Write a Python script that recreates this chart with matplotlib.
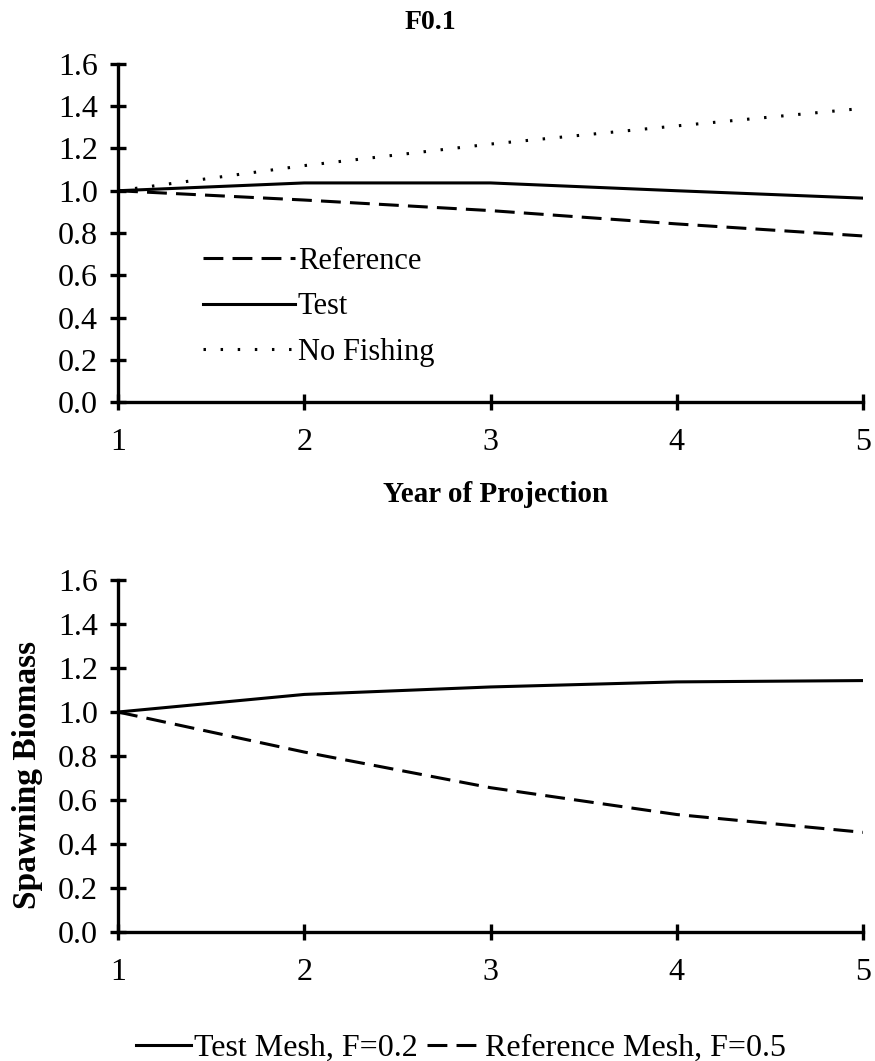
import matplotlib
matplotlib.use("Agg")
import matplotlib.pyplot as plt

plt.rcParams['font.family'] = ['Liberation Serif', 'DejaVu Serif']

years = [1, 2, 3, 4, 5]

# top panel: F0.1
f01_reference = [1.00, 0.956, 0.906, 0.843, 0.786]
f01_test = [1.00, 1.037, 1.037, 1.000, 0.965]
f01_no_fishing = [1.00, 1.119, 1.221, 1.307, 1.390]

# bottom panel: mesh comparison
mesh_test = [1.00, 1.080, 1.114, 1.137, 1.143]
mesh_reference = [1.00, 0.818, 0.656, 0.534, 0.453]

y_ticks = [0.0, 0.2, 0.4, 0.6, 0.8, 1.0, 1.2, 1.4, 1.6]

lw = 2.2
dash = (0, (6.5, 3))
dot = (0, (0.8, 4.8))


def style_axes(ax):
    ax.set_xlim(1, 5)
    ax.set_ylim(0, 1.6)
    ax.set_xticks(years)
    ax.set_yticks(y_ticks)
    ax.set_yticklabels([f"{v:.1f}" for v in y_ticks])
    for s in ['top', 'right']:
        ax.spines[s].set_visible(False)
    for s in ['left', 'bottom']:
        ax.spines[s].set_linewidth(2.4)
    ax.tick_params(direction='inout', length=11, width=2.4, labelsize=23)
    ax.tick_params(axis='x', pad=13)
    ax.tick_params(axis='y', pad=9)
    for lab in ax.get_xticklabels() + ax.get_yticklabels():
        lab.set_clip_on(False)


fig = plt.figure(figsize=(8.75, 10.61), dpi=100)

ax1 = fig.add_axes([0.1349, 0.6211, 0.8514, 0.3186])
ax1.plot(years, f01_reference, color='black', lw=lw, linestyle=dash, label='Reference')
ax1.plot(years, f01_test, color='black', lw=lw, label='Test')
ax1.plot(years, f01_no_fishing, color='black', lw=lw, linestyle=dot, label='No Fishing')
style_axes(ax1)
ax1.legend(loc='upper left', bbox_to_anchor=(0.114, 0.46), frameon=False,
           fontsize=22, handlelength=3.0, handletextpad=0.1, labelspacing=0.55,
           borderpad=0, borderaxespad=0)
fig.text(0.492, 0.979, 'F0.1', fontsize=20, fontweight='bold',
         ha='center', va='center')
fig.text(0.567, 0.5335, 'Year of Projection', fontsize=21, fontweight='bold',
         ha='center', va='center')

ax2 = fig.add_axes([0.1349, 0.1216, 0.8514, 0.3317])
l1, = ax2.plot(years, mesh_test, color='black', lw=lw, label='Test Mesh, F=0.2')
l2, = ax2.plot(years, mesh_reference, color='black', lw=lw, linestyle=dash,
               label='Reference Mesh, F=0.5')
style_axes(ax2)
fig.text(0.031, 0.2695, 'Spawning Biomass', rotation=90, fontsize=24,
         fontweight='bold', ha='center', va='center')
fig.legend(handles=[l1, l2], loc='center', bbox_to_anchor=(0.527, 0.012),
           ncol=2, frameon=False, fontsize=23, handlelength=1.7,
           handletextpad=0.1, columnspacing=0.3, borderpad=0)

fig.savefig('out.png', dpi=100)
